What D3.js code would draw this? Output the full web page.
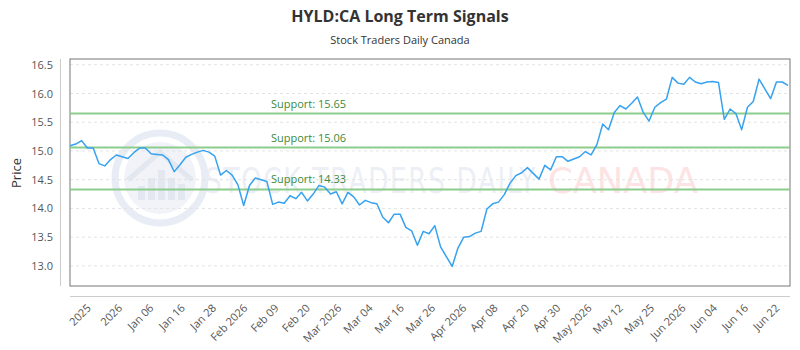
<!DOCTYPE html>
<html><head><meta charset="utf-8">
<script src="https://cdn.jsdelivr.net/npm/d3@7"></script>
<style>body{margin:0;background:#fff;} svg{display:block;font-family:"Open Sans","Noto Sans",sans-serif;}</style>
</head><body><svg id="c" width="800" height="350"></svg>
<script>
const prices = [15.09,15.12,15.18,15.05,15.05,14.78,14.74,14.85,14.93,14.90,
14.87,14.97,15.05,15.05,14.95,14.94,14.93,14.85,14.64,14.76,
14.89,14.94,14.98,15.01,14.98,14.91,14.58,14.66,14.58,14.41,
14.05,14.40,14.53,14.50,14.47,14.07,14.11,14.09,14.22,14.17,
14.28,14.13,14.25,14.40,14.37,14.25,14.29,14.08,14.28,14.20,
14.06,14.14,14.10,14.08,13.85,13.75,13.90,13.90,13.67,13.61,
13.36,13.60,13.56,13.70,13.33,13.16,12.99,13.31,13.50,13.51,
13.57,13.60,13.99,14.08,14.11,14.24,14.44,14.57,14.62,14.71,
14.61,14.51,14.75,14.67,14.90,14.90,14.82,14.86,14.90,14.99,
14.93,15.11,15.47,15.37,15.67,15.79,15.73,15.83,15.94,15.67,
15.52,15.76,15.84,15.90,16.28,16.18,16.16,16.28,16.20,16.17,
16.20,16.21,16.19,15.55,15.73,15.65,15.37,15.76,15.86,16.25,
16.08,15.91,16.20,16.20,16.14];
const tickLabels = ["2025","2026","Jan 06","Jan 16","Jan 28","Feb 2026","Feb 09","Feb 20","Mar 2026","Mar 04","Mar 16","Mar 26","Apr 2026","Apr 08","Apr 20","Apr 30","May 2026","May 12","May 25","Jun 2026","Jun 04","Jun 16","Jun 22"];
const supports = [15.65, 15.06, 14.33];
const yTicks = [13.0,13.5,14.0,14.5,15.0,15.5,16.0,16.5];

const svg = d3.select("#c");
const L = 70, R = 790, T = 59, B = 286;

const x = d3.scaleLinear().domain([0, prices.length - 1]).range([L, 788]);
const y = d3.scaleLinear().domain([12.65, 16.6]).range([B, T]);
const xt = d3.scalePoint().domain(tickLabels).range([88.5, 777]);

// title
svg.append("text").attr("x", 400).attr("y", 22).attr("text-anchor", "middle")
  .attr("font-size", 16).attr("font-weight", "bold").attr("fill", "#333").text("HYLD:CA Long Term Signals");
svg.append("text").attr("x", 400).attr("y", 44).attr("text-anchor", "middle")
  .attr("font-size", 11).attr("fill", "#333").text("Stock Traders Daily Canada");

// watermark
const wm = svg.append("g").attr("opacity", 1);
wm.append("circle").attr("cx", 160).attr("cy", 178).attr("r", 45).attr("fill", "none").attr("stroke", "#e8ecf4").attr("stroke-width", 7);
wm.append("circle").attr("cx", 160).attr("cy", 178).attr("r", 36).attr("fill", "#f1f3f8");
[[-22,14],[-12,22],[-2,30],[8,22],[18,16]].forEach(([dx,h]) => {
  wm.append("rect").attr("x", 160 + dx).attr("y", 200 - h).attr("width", 7).attr("height", h).attr("fill", "#e2e7f0");
});
wm.append("path").attr("d", "M128,180 L160,152 L192,180").attr("fill", "none").attr("stroke", "#e2e7f0").attr("stroke-width", 5);
wm.append("text").attr("x", 205).attr("y", 193).attr("font-size", 36).attr("font-family", "'DejaVu Sans Condensed','DejaVu Sans',sans-serif")
  .attr("letter-spacing", 2).attr("fill", "#eceff5").text("STOCK TRADERS DAILY")
  .attr("textLength", 332).attr("lengthAdjust", "spacingAndGlyphs");
wm.append("text").attr("x", 548).attr("y", 193).attr("font-size", 36).attr("font-family", "'DejaVu Sans Condensed','DejaVu Sans',sans-serif")
  .attr("fill", "#fde3e3").text("CANADA")
  .attr("textLength", 150).attr("lengthAdjust", "spacingAndGlyphs");

// grid
svg.append("g").selectAll("line").data(yTicks).join("line")
  .attr("x1", L).attr("x2", R).attr("y1", d => y(d)).attr("y2", d => y(d))
  .attr("stroke", "#e3e3e3").attr("stroke-dasharray", "3,3");

// plot border
svg.append("rect").attr("x", L).attr("y", T).attr("width", R - L).attr("height", B - T)
  .attr("fill", "none").attr("stroke", "#777").attr("stroke-width", 1);

// y axis
const ya = svg.append("g").attr("transform", "translate(60,0)")
  .call(d3.axisLeft(y).tickValues(yTicks).tickFormat(d3.format(".1f")).tickSize(0).tickPadding(7));
ya.select(".domain").attr("stroke", "#ccc").attr("d", `M0.5,${T}V${B}`);
ya.selectAll("text").attr("font-size", 11).attr("fill", "#555").attr("font-family", "'Open Sans',sans-serif");

svg.append("text").attr("transform", "translate(21,173) rotate(-90)").attr("text-anchor", "middle")
  .attr("font-size", 13).attr("fill", "#333").text("Price");

// x axis
const xa = svg.append("g").attr("transform", "translate(0,296)")
  .call(d3.axisBottom(xt).tickSize(0).tickPadding(6));
xa.select(".domain").attr("stroke", "#ccc").attr("d", `M${L},0.5H${R}`);
xa.selectAll("text").attr("font-size", 11).attr("fill", "#555").attr("font-family", "'Open Sans',sans-serif")
  .attr("text-anchor", "end").attr("dy", "0.35em")
  .attr("transform", "translate(0,10) rotate(-45)").attr("y", 0).attr("x", 0);

// supports
svg.append("g").selectAll("line").data(supports).join("line")
  .attr("x1", L).attr("x2", R).attr("y1", d => y(d)).attr("y2", d => y(d))
  .attr("stroke", "#8ccc8c").attr("stroke-width", 2);
svg.append("g").selectAll("text").data(supports).join("text")
  .attr("x", 271).attr("y", d => y(d) - 6).attr("font-size", 11).attr("fill", "#3c8a3c")
  .text(d => "Support: " + d.toFixed(2));

// line
svg.append("path").datum(prices)
  .attr("d", d3.line().x((d, i) => x(i)).y(d => y(d)))
  .attr("fill", "none").attr("stroke", "#36a2f0").attr("stroke-width", 1.5).attr("stroke-linejoin", "round");
</script></body></html>
